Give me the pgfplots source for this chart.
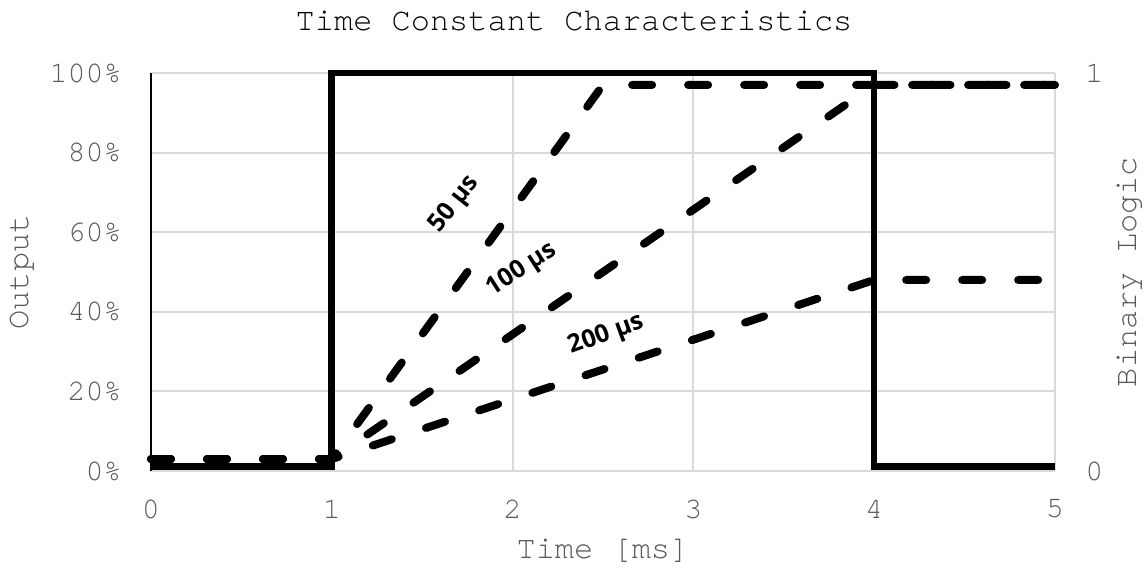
\documentclass[border=0pt]{standalone}
\usepackage{fontspec}
\setmainfont{TeX Gyre Cursor}
\newfontfamily\lblfont{Open Sans}
\usepackage{pgfplots}
\pgfplotsset{compat=1.18}
\definecolor{txtgray}{HTML}{595959}
\definecolor{gridgray}{HTML}{D9D9D9}
\tikzset{tc/.style={font=\lblfont\bfseries\fontsize{12.5}{15}\selectfont, inner sep=1pt}}

\begin{document}
\begin{tikzpicture}
% page = 1148x568 px at 0.5pt per px; axis box lower-left at (0,0)
\path[use as bounding box] (-75.5pt,-48.5pt) rectangle (498.5pt,235.5pt);
\pgfplotsset{
  every axis/.append style={
    scale only axis, width=452pt, height=199pt,
    xmin=0, xmax=5, clip=false,
    major tick length=0pt,
    tick label style={font=\fontsize{15}{18}\selectfont, text=txtgray, inner sep=0pt},
    label style={font=\fontsize{16}{19}\selectfont, text=txtgray},
  },
  ramp/.style={black, line width=4pt, line cap=round, line join=round,
    dash pattern=on 10pt off 18pt, mark=none},
}
\begin{axis}[
  axis x line*=bottom, axis y line*=left,
  x axis line style={draw=gridgray, line width=1pt, -},
  y axis line style={draw=black, line width=1pt, -},
  ymin=0, ymax=100,
  xtick={0,1,2,3,4,5}, xticklabels={0,1,2,3,4,5},
  ytick={0,20,40,60,80,100}, yticklabels={0\%,20\%,40\%,60\%,80\%,100\%},
  xticklabel style={anchor=center, yshift=-19pt},
  yticklabel style={anchor=east, xshift=-14.5pt},
  grid=major, grid style={gridgray, line width=1pt},
  xlabel={Time [ms]}, ylabel={Output},
  xlabel style={at={(axis description cs:0.5,0)}, anchor=center, yshift=-40pt},
  ylabel style={at={(axis description cs:-0.1427,0.5)}, anchor=center, rotate=0},
  title={Time Constant Characteristics},
  title style={font=\fontsize{16}{19}\selectfont, text=black,
    at={(axis description cs:0.468,1)}, anchor=center, yshift=20pt},
]
% 200 us
\addplot[ramp] coordinates {(0,3) (1,3) (4,48) (5,48)};
% 100 us
\addplot[ramp] coordinates {(0,3) (1,3) (4,97) (5,97)};
% 50 us
\addplot[ramp] coordinates {(0,3) (1,3) (2.5,97) (5,97)};

\node[tc, rotate=52] at (axis cs:1.68,67) {50 µs};
\node[tc, rotate=33] at (axis cs:2.05,50.5) {100 µs};
\node[tc, rotate=20] at (axis cs:2.52,34.2) {200 µs};
\end{axis}

\begin{axis}[
  axis x line=none, axis y line*=right,
  y axis line style={draw=none},
  ymin=0, ymax=1,
  ytick={0,1}, yticklabels={0,1},
  yticklabel style={anchor=west, xshift=15pt},
  ylabel={Binary Logic},
  ylabel style={at={(axis description cs:1.083,0.5)}, anchor=center, rotate=0},
]
\addplot[black, line width=3.3pt, line join=miter, mark=none] coordinates {
  (0,0.012) (1,0.012) (1,1) (4,1) (4,0.012) (5,0.012)
};
\end{axis}
\end{tikzpicture}
\end{document}
